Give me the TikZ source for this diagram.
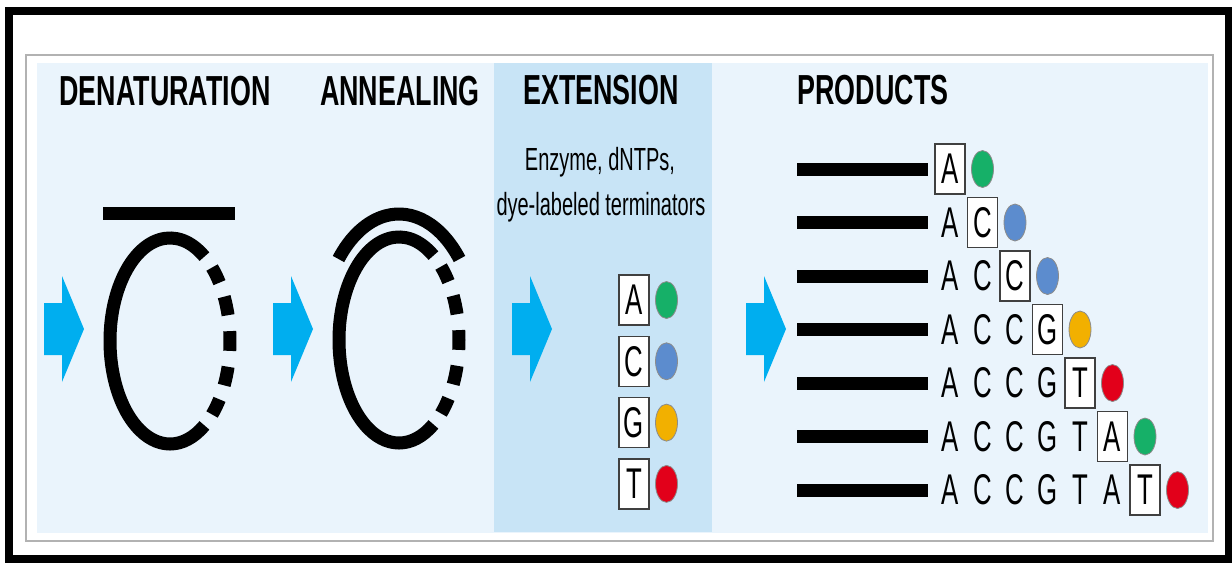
\documentclass[tikz,border=0pt]{standalone}
\usepackage{fontspec}
\setmainfont{Liberation Sans}
\usepackage{graphicx}
\usetikzlibrary{shapes.geometric}

\definecolor{panelblue}{RGB}{234,244,252}
\definecolor{extblue}{RGB}{200,228,246}
\definecolor{arrowblue}{RGB}{0,174,239}
\definecolor{dyeA}{RGB}{22,176,104}
\definecolor{dyeC}{RGB}{92,140,206}
\definecolor{dyeG}{RGB}{242,176,0}
\definecolor{dyeT}{RGB}{226,0,26}

\newcommand{\cond}[2][0.64]{\scalebox{#1}[1]{#2}}

\tikzset{
  heading/.style={font=\fontsize{42}{42}\selectfont\bfseries, inner sep=0pt, anchor=base},
  note/.style={font=\fontsize{32}{32}\selectfont, inner sep=0pt, anchor=base},
  strand/.style={line width=13pt, black},
  basebox/.style={draw=black!75, line width=1.5pt, fill=white, minimum width=30pt, minimum height=50pt, inner sep=0pt, font=\fontsize{43}{43}\selectfont},
  nucl/.style={inner sep=0pt, font=\fontsize{43}{43}\selectfont},
  dye/.style={ellipse, draw=black!45, line width=0.8pt, minimum width=22pt, minimum height=37pt, inner sep=0pt},
  blockarrow/.pic={\fill[arrowblue] (-18,26) -- (0,26) -- (0,53) -- (22,0) -- (0,-53) -- (0,-26) -- (-18,-26) -- cycle;}
}

\begin{document}
\begin{tikzpicture}[x=1pt, y=1pt]
  \useasboundingbox (0,0) rectangle (1232,-563);
  \fill[white] (0,0) rectangle (1232,-563);

  % frames and panels
  \draw[line width=8pt] (9,-11) rectangle (1229,-559);
  \draw[black!30, line width=2pt] (26,-55) rectangle (1213,-541);
  \fill[panelblue] (37,-63) rectangle (1208,-533);
  \fill[extblue] (494,-63) rectangle (712,-532);

  % headings
  \node[heading] (den) at (165,-105) {\cond{DENATURATION}};
  \node[heading] (ann) at (400,-105) {\cond{ANNEALING}};
  \node[heading] (ext) at (601,-104) {\cond{EXTENSION}};
  \node[heading] (prod) at (873,-104) {\cond{PRODUCTS}};

  \node[note] (enz) at (600,-170) {\cond[0.625]{Enzyme, dNTPs,}};
  \node[note] (term) at (601,-215) {\cond[0.625]{dye-labeled terminators}};

  % step arrows
  \foreach \ax in {62,291,530,764}
    \pic at (\ax,-329) {blockarrow};

  % denaturation
  \coordinate (dc) at (170,-341);
  \draw[strand] (103,-213.5) -- (235,-213.5);
  \draw[strand] (dc) ++(55:60pt and 103pt) arc[start angle=55, end angle=305, x radius=60pt, y radius=103pt];
  \foreach \a in {40,20,0,-20,-40}
    \draw[strand] (dc) ++(\a+5.5:60pt and 103pt) arc[start angle=\a+5.5, end angle=\a-5.5, x radius=60pt, y radius=103pt];

  % annealing
  \coordinate (ac) at (399,-340);
  \draw[strand] (ac) ++(40:79pt and 126pt) arc[start angle=40, end angle=140, x radius=79pt, y radius=126pt];
  \draw[strand] (ac) ++(55:60pt and 103pt) arc[start angle=55, end angle=305, x radius=60pt, y radius=103pt];
  \foreach \a in {40,20,0,-20,-40}
    \draw[strand] (ac) ++(\a+5.5:60pt and 103pt) arc[start angle=\a+5.5, end angle=\a-5.5, x radius=60pt, y radius=103pt];

  % extension: terminators
  \foreach \b [count=\i] in {A,C,G,T} {
    \node[basebox] (t\b) at (634,{-300-61.3*(\i-1)}) {\cond[0.6]{\b}};
    \node[dye, fill=dye\b] (d\b) at (666.5,{-300-61.3*(\i-1)}) {};
  }

  % products
  \foreach \i in {1,...,7} {
    \pgfmathsetmacro\rowy{-169-53.5*(\i-1)}
    \draw[strand] (797,\rowy) -- (928,\rowy);
    \foreach \b [count=\j] in {A,C,C,G,T,A,T} {
      \pgfmathsetmacro\colx{950+32.5*(\j-1)}
      \ifnum\j<\i
        \node[nucl] (p\i-\j) at (\colx,\rowy) {\cond[0.6]{\b}};
      \fi
      \ifnum\j=\i
        \node[basebox] (p\i-\j) at (\colx,\rowy) {\cond[0.6]{\b}};
        \node[dye, fill=dye\b] (s\i) at (\colx+32.5,\rowy) {};
      \fi
    }
  }
\end{tikzpicture}
\end{document}
